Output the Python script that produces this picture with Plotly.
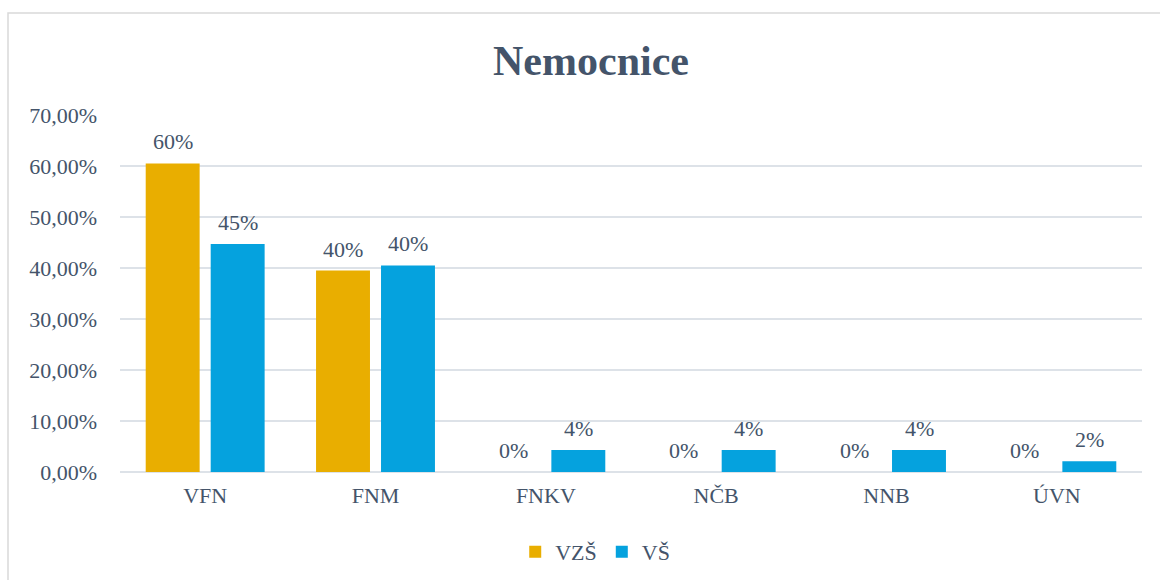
import plotly.graph_objects as go

categories = ["VFN", "FNM", "FNKV", "NČB", "NNB", "ÚVN"]
vzs_values = [60.5, 39.5, 0, 0, 0, 0]
vs_values = [44.7, 40.5, 4.3, 4.3, 4.3, 2.1]
vzs_labels = ["60%", "40%", "0%", "0%", "0%", "0%"]
vs_labels = ["45%", "40%", "4%", "4%", "4%", "2%"]
y_ticks = [0, 10, 20, 30, 40, 50, 60, 70]
y_tick_labels = ["0,00%", "10,00%", "20,00%", "30,00%", "40,00%", "50,00%", "60,00%", "70,00%"]

TXT = "#44546A"
FONT = "Liberation Serif, Times New Roman, serif"

fig = go.Figure()
fig.add_trace(go.Bar(
    name="VZŠ", x=categories, y=vzs_values,
    marker=dict(color="#E9AE00", line=dict(width=0)),
))
fig.add_trace(go.Bar(
    name="VŠ", x=categories, y=vs_values,
    marker=dict(color="#05A2DE", line=dict(width=0)),
))

annotations = []
for vals, labs, shift in ((vzs_values, vzs_labels, -32.5), (vs_values, vs_labels, 32.5)):
    for c, v, t in zip(categories, vals, labs):
        annotations.append(dict(
            x=c, y=v, xref="x", yref="y", text=t, showarrow=False,
            xshift=shift, yshift=7, yanchor="bottom", xanchor="center",
            font=dict(family=FONT, size=22, color=TXT)))

fig.update_layout(
    width=1160, height=580,
    font=dict(family=FONT, color=TXT),
    margin=dict(l=120, r=18, t=115, b=108, autoexpand=False),
    paper_bgcolor="white", plot_bgcolor="white",
    barmode="group", bargap=0.237, bargroupgap=0.17,
    title=dict(text="<b>Nemocnice</b>", x=591/1160, xanchor="center",
               y=1 - 60/580, yanchor="middle",
               font=dict(family=FONT, size=42, color=TXT)),
    showlegend=True,
    legend=dict(orientation="h", x=0.465, xanchor="center", y=-0.224, yanchor="middle",
                font=dict(family=FONT, size=22, color=TXT), traceorder="normal",
                itemwidth=30),
    annotations=annotations,
    xaxis=dict(tickfont=dict(family=FONT, size=22, color=TXT), showgrid=False,
               showline=False, ticks="", ticklabelstandoff=8),
    yaxis=dict(range=[0, 70], tickvals=y_ticks, ticktext=y_tick_labels,
               tickfont=dict(family=FONT, size=22, color=TXT),
               showgrid=True, gridcolor="#DDE2E8", gridwidth=1.5,
               zeroline=True, zerolinecolor="#DDE2E8", zerolinewidth=1.5,
               showline=False, ticks="", ticklabelstandoff=22),
    shapes=[dict(type="rect", xref="paper", yref="paper",
                 x0=(8 - 120) / 1022, x1=(1175 - 120) / 1022,
                 y0=(472 - 600) / 357, y1=(472 - 13) / 357,
                 line=dict(color="#D9D9D9", width=1.5), fillcolor="rgba(0,0,0,0)",
                 layer="below")],
)

fig.write_html("out.html")
